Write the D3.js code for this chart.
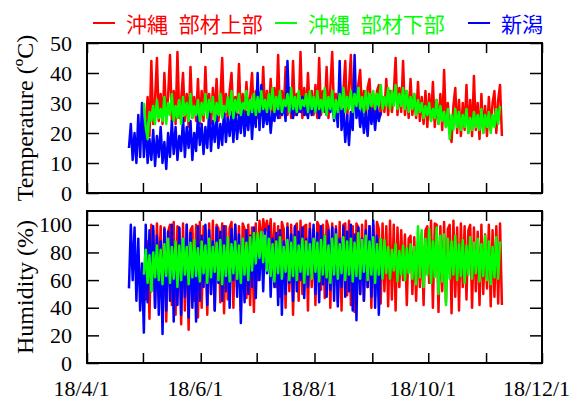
<!DOCTYPE html>
<html>
<head>
<meta charset="utf-8">
<script src="https://cdn.jsdelivr.net/npm/d3@7"></script>
<style>
  body { margin: 0; background: #fff; }
  text { font-family: "Liberation Serif", "Times New Roman", serif; }
</style>
</head>
<body>
<svg width="571" height="401"></svg>
<script>
// one value per day (roughly alternating low / high)
const seriesNames = ["沖縄 部材上部", "沖縄 部材下部", "新潟"];
const startDays = [31, 30, 22];   // days after 2018-04-01 where each series begins

const tempUpper = [
  22,32,19,44,23,31,45,24,33,23, 40,25,32,46,24,34,23,47,25,31, 40,24,33,22,42,25,32,24,38,23,
  34,24,42,25,33,23,35,26,38,24, 31,45,25,33,24,34,40,25,32,26, 43,24,33,25,37,26,32,40,25,34,
  25,33,26,42,25,34,26,38,25,35, 26,46,25,34,27,42,26,35,25,44, 26,33,27,47,25,35,26,40,27,34, 26,
  36,25,45,26,34,27,42,25,35,47, 26,33,25,38,26,34,44,25,35,46, 26,33,27,36,41,26,34,25,35,38, 26,
  33,25,34,36,26,32,27,38,26,34, 27,33,45,26,35,27,44,26,34,25, 38,26,33,25,37,24,32,23,34,22,
  33,24,37,22,31,23,33,21,41,22, 30,20,17,29,35,20,31,19,30,21, 36,20,31,19,39,21,30,18,33,20, 29,
  19,32,21,30,34,20,31,36,19
];
const tempLower = [
  30,22,18,27,24,29,23,31,25,28, 24,32,23,30,26,33,24,29,25,31, 23,32,26,30,24,33,25,29,26,31, 24,
  30,26,33,25,31,27,32,24,30,26, 33,25,29,27,32,26,34,25,31,27, 33,26,30,28,34,26,31,27,33,26,
  32,27,34,28,31,27,33,28,35,27, 32,28,34,27,31,29,33,27,35,28, 32,27,34,28,31,29,33,27,34,28, 32,
  27,34,28,31,27,35,26,32,28,34, 25,31,27,33,28,35,27,32,28,34, 27,33,29,35,28,32,27,34,28,33, 29,
  34,28,33,29,36,28,32,29,35,28, 34,29,36,28,33,29,35,28,34,27, 32,28,33,26,31,27,30,25,29,26,
  30,24,28,25,31,23,29,24,27,22, 28,18,26,21,28,22,27,21,26,22, 28,20,25,21,27,22,26,21,28,20, 26,
  22,27,20,26,22,28,23,29
];
const tempNiigata = [
  15,23,11,20,10,26,12,30,12,24, 10,18,11,21,9,19,12,22,10,17,
  8,20,12,24,13,22,11,19,14,25, 12,22,15,24,11,20,14,26,16,23,
  13,22,15,27,14,24,17,26,15,23, 16,28,17,25,19,27,17,28,18,26,
  20,30,19,27,21,31,18,29,22,40, 21,36,22,28,23,29,20,27,24,30,
  25,29,26,30,24,44,27,29,25,31, 26,30,27,32,26,29,25,31,26,30,
  27,31,25,30,28,29,26,30,27,32, 24,30,22,44,21,28,17,26,16,27,
  21,46,25,30,22,28,20,27,19,30, 23,28,21,29,24,27
];

const humUpper = [
  45,88,32,100,96,40,101,55,99,36, 98,30,95,100,42,102,35,99,97,28, 101,38,100,24,96,99,45,100,33,102,
  40,99,97,35,101,50,103,38,100,97, 44,101,36,99,46,98,102,40,100,55, 99,38,101,97,47,100,42,98,37,101,
  60,103,85,104,95,103,90,104,70,101, 55,99,48,102,97,40,101,52,100,35, 98,101,45,103,50,99,100,38,101,55, 97,
  42,102,99,53,100,47,103,98,40,101, 56,99,44,102,38,100,101,49,103,42, 99,37,101,98,50,100,45,103,55,99, 40,
  100,48,102,97,43,101,52,99,41,103, 46,100,38,98,55,96,60,93,42,90, 92,50,91,45,88,55,94,42,96,99,
  58,103,40,101,100,37,99,52,102,44, 97,100,36,103,48,98,38,101,55,99, 46,96,100,40,98,52,95,42,100,50, 93,
  54,100,41,96,48,99,43,101,42
];
const humLower = [
  64,82,58,78,52,80,62,85,60,82, 57,86,63,90,58,84,61,88,55,85,
  60,90,64,84,57,87,62,89,63,83, 59,88,65,85,58,90,62,84,66,87,
  60,89,57,85,63,91,59,86,65,88, 61,85,58,90,64,87,60,91,67,94,
  72,94,76,95,73,92,67,90,63,86, 59,88,65,91,61,84,66,89,60,87,
  63,91,60,85,66,90,58,88,64,86, 61,90,66,87,59,89,64,92,62,85,
  58,90,64,93,61,86,65,91,60,88, 64,90,59,87,63,94,61,89,66,92,
  60,88,64,91,58,86,64,90,61,89, 65,84,61,82,67,86,59,81,64,85,
  60,83,65,86,61,84,57,99,62,96, 55,90,64,97,58,88,62,98,50,92,
  59,93,42,90,61,88,64,92,60,86, 63,89,58,85,64,91,61,87,65,90,
  59,86,63,92,60,88,57,84,62,91, 61,88
];
const humNiigata = [
  54,100,60,98,45,90,38,72,22,100, 44,96,52,99,40,92,35,88,21,97,
  38,95,45,100,30,85,42,98,35,90, 48,100,33,94,40,86,30,99,45,92,
  55,100,42,96,50,88,38,98,58,95, 45,99,52,90,40,97,60,100,48,93,
  29,88,44,96,50,92,55,98,47,90, 60,95,52,97,65,99,48,90,55,94,
  42,96,35,88,50,98,58,93,45,99, 52,95,60,98,47,90,55,97,62,100,
  50,94,44,99,57,92,48,96,53,98, 45,97,41,90,55,99,48,95,52,100,
  38,93,31,98,50,90,45,96,55,99, 48,103,40,92,35,80
];

const tempTicks = [0, 10, 20, 30, 40, 50];
const humTicks = [0, 20, 40, 60, 80, 100];

const colors = ["#ff0000", "#00ff00", "#0000ff"];
const svg = d3.select("svg");

const x = d3.scaleTime()
  .domain([new Date(2018, 3, 1), new Date(2018, 11, 1)])
  .range([87, 542]);
const dayDate = d => new Date(2018, 3, 1 + d, 12);

const panels = [
  { y: d3.scaleLinear().domain([0, 50]).range([193, 43]), ticks: tempTicks,
    data: [tempUpper, tempLower, tempNiigata], title: "Temperature (ºC)" },
  { y: d3.scaleLinear().domain([0, 110]).range([363, 211]), ticks: humTicks,
    data: [humUpper, humLower, humNiigata], title: "Humidity (%)" }
];

panels.forEach(p => {
  const g = svg.append("g");
  const [y0, y1] = p.y.range();

  // series: upper (red), Niigata (blue), lower (green) on top
  [0, 2, 1].forEach(k => {
    const line = d3.line()
      .x((d, i) => x(dayDate(startDays[k] + i)))
      .y(d => p.y(d));
    g.append("path")
      .datum(p.data[k])
      .attr("fill", "none")
      .attr("stroke", colors[k])
      .attr("stroke-width", 2.5)
      .attr("stroke-linejoin", "round")
      .attr("d", line);
  });

  const months = d3.timeMonth.every(1);
  g.append("g").attr("transform", "translate(0," + y0 + ")")
    .call(d3.axisBottom(x).ticks(months).tickSize(-10).tickFormat(""));
  g.append("g").attr("transform", "translate(0," + y1 + ")")
    .call(d3.axisTop(x).ticks(months).tickSize(-10).tickFormat(""));
  g.append("g").attr("transform", "translate(87,0)")
    .call(d3.axisLeft(p.y).tickValues(p.ticks).tickSize(-12).tickPadding(15));
  g.append("g").attr("transform", "translate(542,0)")
    .call(d3.axisRight(p.y).tickValues(p.ticks).tickSize(-12).tickFormat(""));

  g.selectAll(".domain").remove();
  g.selectAll(".tick line").attr("stroke", "#000").attr("stroke-width", 1.5);
  g.selectAll(".tick text").attr("font-size", 22).attr("fill", "#000")
    .style("font-family", "'Liberation Serif', serif");

  g.append("rect")
    .attr("x", 87).attr("y", y1)
    .attr("width", 455).attr("height", y0 - y1)
    .attr("fill", "none").attr("stroke", "#000").attr("stroke-width", 2);

  g.append("text")
    .attr("transform", "translate(33," + (y0 + y1) / 2 + ") rotate(-90)")
    .attr("text-anchor", "middle")
    .attr("font-size", 24)
    .text(p.title);
});

// date labels every two months
const xl = svg.append("g").attr("transform", "translate(0,363)")
  .call(d3.axisBottom(x)
    .tickValues([3, 5, 7, 9, 11].map(m => new Date(2018, m, 1)))
    .tickSize(0).tickPadding(17)
    .tickFormat(d3.timeFormat("%y/%-m/%-d")));
xl.select(".domain").remove();
xl.selectAll("text").attr("font-size", 22).attr("fill", "#000").attr("dx", -6)
  .style("font-family", "'Liberation Serif', serif");

// legend
const legendX = [93, 275, 468];
const legend = svg.append("g");
seriesNames.forEach((name, k) => {
  legend.append("line")
    .attr("x1", legendX[k]).attr("x2", legendX[k] + 22)
    .attr("y1", 23).attr("y2", 23)
    .attr("stroke", colors[k]).attr("stroke-width", 2);
  legend.append("text")
    .attr("x", legendX[k] + 33).attr("y", 23)
    .attr("dominant-baseline", "central")
    .attr("fill", colors[k])
    .attr("font-size", 21)
    .attr("word-spacing", 6)
    .style("font-family", "'Noto Sans CJK JP', sans-serif")
    .text(name);
});
</script>
</body>
</html>
